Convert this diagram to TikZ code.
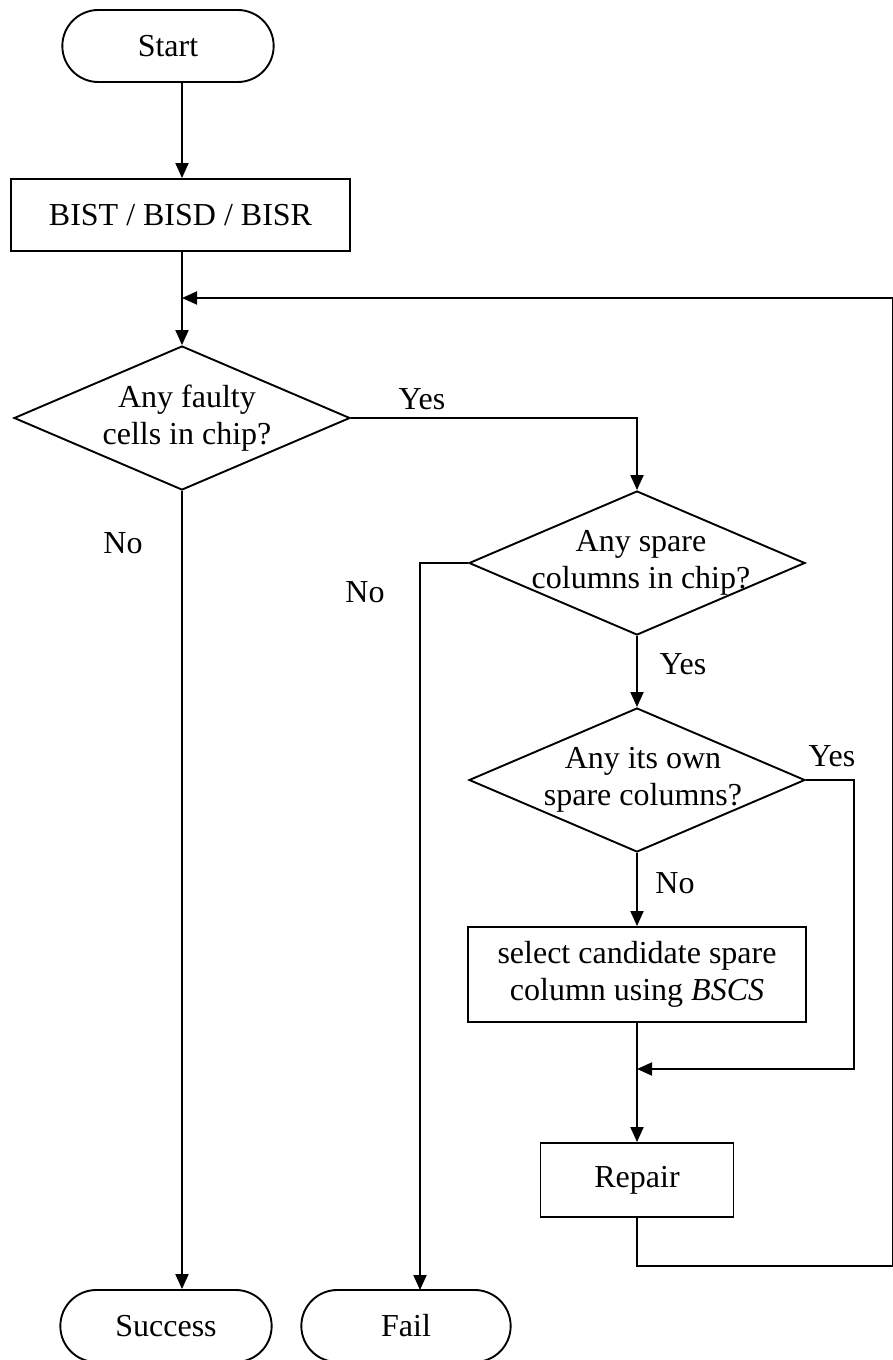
\documentclass[tikz,border=0pt]{standalone}
\usepackage{fontspec}
\setmainfont{Liberation Serif}
\usetikzlibrary{shapes.geometric,shapes.misc,arrows.meta}
\begin{document}
\begin{tikzpicture}[x=1pt,y=-1pt,line width=1.9pt,font=\fontsize{32}{37}\selectfont,
  termstyle/.style={rounded rectangle,draw,minimum width=218pt,minimum height=72pt},
  boxstyle/.style={rectangle,draw,align=center,minimum height=72pt},
  decstyle/.style={diamond,draw,minimum width=336pt,minimum height=144pt,inner sep=0pt},
  flow/.style={-{Triangle[length=15pt,width=13pt]}}]
\useasboundingbox (0,0) rectangle (893,1360);
\node[termstyle](St) at (168,46){Start};
\node[boxstyle,minimum width=339pt](Bist) at (180.5,215){BIST / BISD / BISR};
\node[decstyle,label={[align=center,xshift=5pt]center:Any faulty\\cells in chip?}](Q1) at (182,418){};
\node[decstyle,label={[align=center,xshift=4pt]center:Any spare\\columns in chip?}](Q2) at (637,563){};
\node[decstyle,label={[align=center,xshift=6pt]center:Any its own\\spare columns?}](Q3) at (637,780){};
\node[boxstyle,minimum width=338pt,minimum height=95pt](Sel) at (637,974.5){select candidate spare\\column using \textit{BSCS}};
\node[boxstyle,minimum width=193pt,minimum height=74pt](Rep) at (637,1180){Repair};
\node[termstyle](Suc) at (166,1326){Success};
\node[termstyle,minimum width=216pt](Fl) at (406,1326){Fail};
\coordinate (M1) at (182,298);
\coordinate (R1) at (893,1266);
\coordinate (F1) at (420,1290);
\coordinate (Y1) at (854,1069);
\node (L1) at (422,399){Yes};
\node (L2) at (123,543){No};
\node (L3) at (365,592){No};
\node (L4) at (683,664){Yes};
\node (L5) at (832,756){Yes};
\node (L6) at (675,883){No};
\draw[flow] (Q1.north |- St.south) -- (Q1.north |- Bist.north);
\draw[flow] (Q1.north |- Bist.south) -- (Q1.north);
\draw[flow] (Q1.east) -| (Q2.north);
\draw[flow] (Q1.south) -- (Q1.south |- Suc.north);
\draw[flow] (Q2.west) -| (F1);
\draw[flow] (Q2.south) -- (Q3.north);
\draw[flow] (Q3.south) -- (Sel.north);
\draw[flow] (Q3.east) -| (Y1) -- (Y1 -| Sel.south);
\draw[flow] (Sel.south) -- (Rep.north);
\draw[flow] (Rep.south) |- (R1) |- (M1);
\end{tikzpicture}
\end{document}
